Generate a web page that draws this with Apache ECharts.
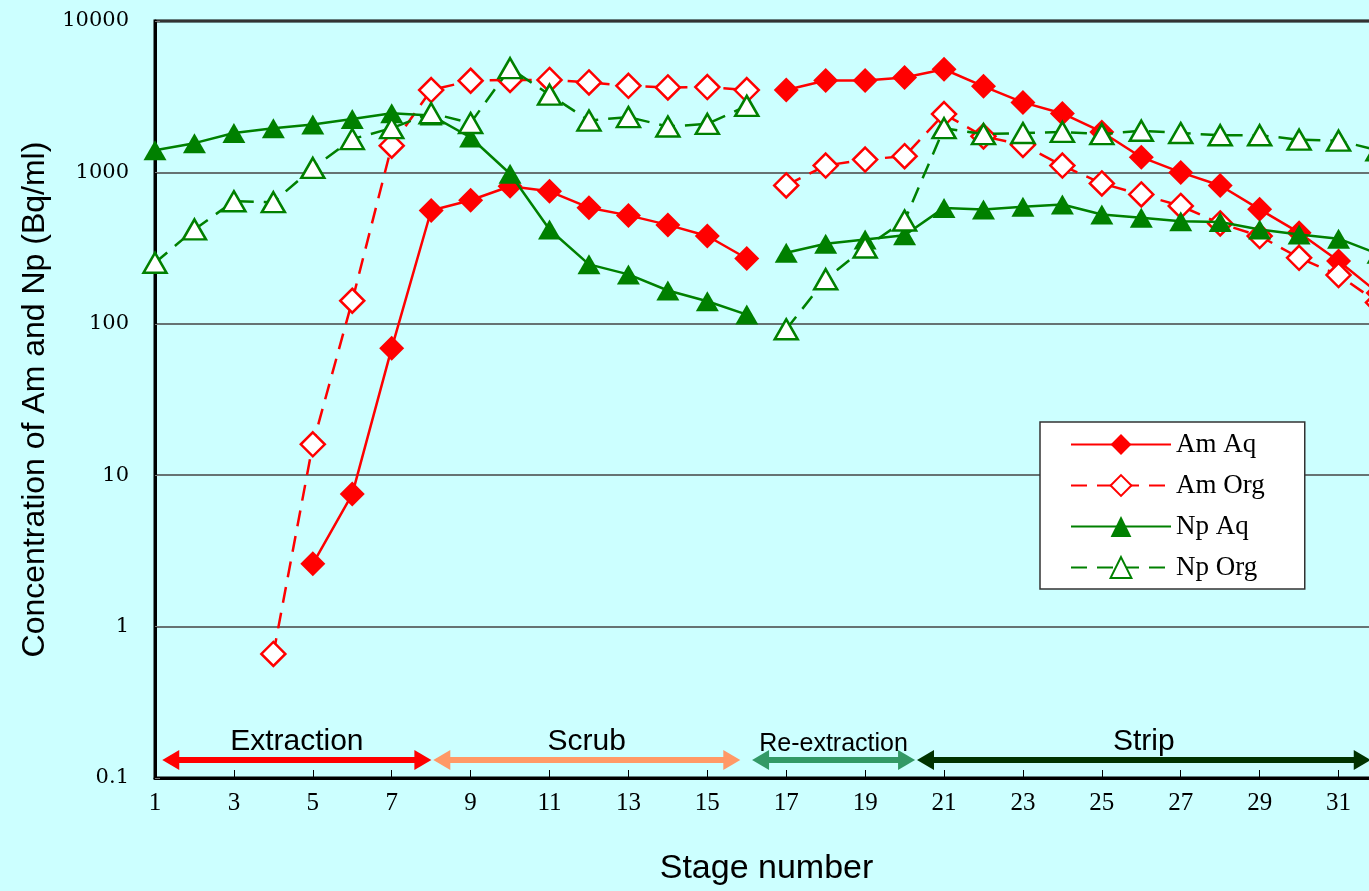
<!DOCTYPE html>
<html><head><meta charset="utf-8">
<script src="https://cdn.jsdelivr.net/npm/echarts@6/dist/echarts.min.js"></script>
<style>
html,body{margin:0;padding:0;overflow:hidden;background:#CCFFFF;width:1369px;height:891px}
#c{width:1400px;height:891px}
</style>
</head><body><div id="c"></div>
<script>
// ---- data ----
const stages = [1,2,3,4,5,6,7,8,9,10,11,12,13,14,15,16,17,18,19,20,21,22,23,24,25,26,27,28,29,30,31,32];
const amAq  = [null,null,null,null,2.6,7.5,69,560,655,810,750,585,520,450,380,270,
               3500,4050,4050,4230,4800,3700,2900,2450,1850,1260,1000,820,570,400,260,160];
const amOrg = [null,null,null,0.66,16,142,1500,3500,4030,4080,4080,3930,3730,3640,3660,3500,
               820,1110,1215,1280,2430,1730,1520,1110,845,715,600,460,380,273,210,138];
const npAq  = [1400,1560,1820,1960,2070,2250,2460,2380,1700,980,420,247,212,166,141,115,
               295,338,361,385,583,569,593,614,527,501,476,470,420,389,365,290];
const npOrg = [253,420,645,636,1070,1660,1960,2460,2120,4880,3260,2200,2320,2010,2090,2750,
               92,197,319,481,1960,1790,1820,1850,1790,1885,1820,1760,1760,1645,1620,1400];
// lines are broken between these stage ranges
const segments = [[1,16],[17,32]];
const yTickValues = [0.1,1,10,100,1000,10000];
const yTickLabels = ['0.1','1','10','100','1000','10000'];
const xTickLabels = ['1','3','5','7','9','11','13','15','17','19','21','23','25','27','29','31'];
// process phases (arrow start/end stage, label)
const phaseNames  = ['Extraction','Scrub','Re-extraction','Strip'];
const phaseStart  = [1.4, 8.27, 16.35, 20.53];
const phaseEnd    = [7.79, 15.62, 20.05, 31.6];
const phaseLevel  = 0.1315;

// ---- styles ----
const RED = '#FF0000', GREEN = '#008000';
const phaseColors = ['#FF0000','#FF9966','#339966','#003300'];
const phaseFont = [30,30,25,30];

function makeSeries(name, values, st){
  return segments.map(([a,b]) => ({
    name: name, type: 'line', clip: false,
    data: stages.slice(a-1,b).map((s,i) => [s, values[a-1+i]]),
    connectNulls: false,
    symbol: st.symbol, symbolSize: st.size,
    lineStyle: {color: st.color, width: 2.5, type: st.dash ? [16,10] : 'solid'},
    itemStyle: st.hollow ? {color:'#FFFFFF', borderColor: st.color, borderWidth: 2.5}
                         : {color: st.color, borderColor: st.color, borderWidth: 0},
    emphasis: {disabled: true},
    z: st.z
  }));
}

const series = [].concat(
  makeSeries('Am Aq',  amAq,  {symbol:'diamond', size:25, color:RED, dash:false, hollow:false, z:2}),
  makeSeries('Am Org', amOrg, {symbol:'diamond', size:24, color:RED, dash:true,  hollow:true,  z:3}),
  makeSeries('Np Aq',  npAq,  {symbol:'triangle', size:[23,20], color:GREEN, dash:false, hollow:false, z:4}),
  makeSeries('Np Org', npOrg, {symbol:'triangle', size:[23,20], color:GREEN, dash:true,  hollow:true,  z:5})
);

series.push({
  name: 'phases', type: 'line', data: [], silent: true, z: 6,
  markLine: {
    silent: true, animation: false,
    symbol: ['triangle','triangle'], symbolSize: [20,17],
    data: phaseNames.map((n,i) => [
      {coord:[phaseStart[i], phaseLevel], name:n,
       lineStyle:{color:phaseColors[i], width:6, type:'solid'},
       itemStyle:{color:phaseColors[i]},
       label:{fontSize:phaseFont[i]}},
      {coord:[phaseEnd[i], phaseLevel]}
    ]),
    label: {show:true, position:'insideMiddleTop', formatter:'{b}', color:'#000',
            fontFamily:'Liberation Sans, Arial', distance: 3}
  }
});

const chart = echarts.init(document.getElementById('c'), null, {renderer:'canvas'});
chart.setOption({
  animation: false,
  backgroundColor: '#CCFFFF',
  grid: {left:155, top:21, right:22, bottom:111, show:true, borderColor:'#000', borderWidth:3, backgroundColor:'#CCFFFF'},
  legend: {
    data: ['Am Aq','Am Org','Np Aq','Np Org'],
    orient: 'vertical', left: 1040, top: 422,
    itemWidth: 100, itemHeight: 26, itemGap: 14,
    padding: [9, 40, 8, 30],
    backgroundColor: '#FFFFFF', borderColor: '#333', borderWidth: 1.5,
    selectedMode: false,
    textStyle: {fontFamily:'Liberation Serif, serif', fontSize: 27, color:'#000'}
  },
  xAxis: {
    type: 'value', min: 1, max: 32, interval: 2,
    name: 'Stage number', nameLocation: 'middle', nameGap: 74,
    nameTextStyle: {fontFamily:'Liberation Sans, Arial', fontSize: 34, color:'#000'},
    axisLine: {lineStyle:{color:'#000', width:3}},
    axisTick: {inside:true, length:8, lineStyle:{color:'#000', width:1}},
    axisLabel: {margin: 13, showMaxLabel:false, fontFamily:'Liberation Serif, serif', fontSize: 25, color:'#000',
      formatter: v => xTickLabels[(v-1)/2] || ''},
    splitLine: {show:false}
  },
  yAxis: {
    type: 'log', logBase: 10, min: 0.1, max: 10000,
    name: 'Concentration of Am and Np (Bq/ml)', nameLocation: 'middle', nameGap: 104,
    nameTextStyle: {fontFamily:'Liberation Sans, Arial', fontSize: 32, color:'#000'},
    axisLine: {lineStyle:{color:'#000', width:3}},
    axisTick: {inside:true, length:5, lineStyle:{color:'#777', width:1}},
    axisLabel: {margin: 26, fontFamily:'DejaVu Serif, serif', fontSize: 21, color:'#000',
      formatter: v => { const i = yTickValues.findIndex(t => Math.abs(Math.log10(t) - Math.log10(v)) < 1e-6); return i >= 0 ? yTickLabels[i] : ''; }},
    splitLine: {show:true, lineStyle:{color:'#444', width:1.5}}
  },
  series: series
});
</script>
</body></html>
